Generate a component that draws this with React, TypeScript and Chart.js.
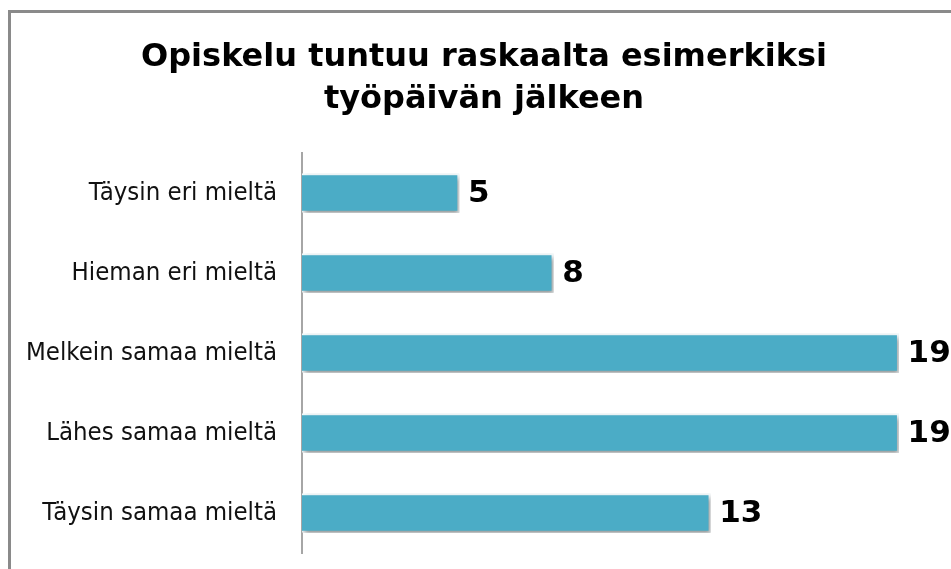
import React, { useEffect, useRef } from "react";
import { Chart, registerables } from "chart.js";

Chart.register(...registerables);

const titleLines = ["Opiskelu tuntuu raskaalta esimerkiksi", "työpäivän jälkeen"];
const categories = [
  "Täysin eri mieltä",
  "Hieman eri mieltä",
  "Melkein samaa mieltä",
  "Lähes samaa mieltä",
  "Täysin samaa mieltä",
];
const values = [5, 8, 19, 19, 13];

const frame = {
  id: "frame",
  beforeDraw(chart: any) {
    const ctx = chart.ctx;
    ctx.save();
    ctx.fillStyle = "#ffffff";
    ctx.fillRect(0, 0, chart.width, chart.height);
    ctx.strokeStyle = "#8a8a8a";
    ctx.lineWidth = 3;
    ctx.strokeRect(9.5, 11.5, 1200, 1200);
    // title
    ctx.fillStyle = "#000000";
    ctx.font = "bold 32px 'DejaVu Sans'";
    ctx.textAlign = "center";
    ctx.textBaseline = "middle";
    titleLines.forEach((line, i) => {
      ctx.fillText(line, 484, 58 + i * 42);
    });
    ctx.restore();
  },
};

const shadow = {
  id: "shadow",
  beforeDatasetDraw(chart: any) {
    const ctx = chart.ctx;
    ctx.save();
    ctx.shadowColor = "rgba(0,0,0,0.4)";
    ctx.shadowBlur = 5;
    ctx.shadowOffsetX = 2;
    ctx.shadowOffsetY = 3;
  },
  afterDatasetDraw(chart: any) {
    chart.ctx.restore();
  },
};

const valueLabels = {
  id: "valueLabels",
  afterDatasetsDraw(chart: any) {
    const ctx = chart.ctx;
    const meta = chart.getDatasetMeta(0);
    ctx.save();
    ctx.font = "bold 31px 'DejaVu Sans'";
    ctx.fillStyle = "#000000";
    ctx.textAlign = "left";
    ctx.textBaseline = "middle";
    meta.data.forEach((bar: any, i: number) => {
      ctx.fillText(String(chart.data.datasets[0].data[i]), bar.x + 9, bar.y + 1);
    });
    ctx.restore();
  },
};

export default function App() {
  const ref = useRef<HTMLCanvasElement>(null);
  useEffect(() => {
    const chart = new Chart(ref.current!, {
      type: "bar",
      data: {
        labels: categories,
        datasets: [
          {
            data: values,
            backgroundColor: "#4BACC6",
            borderColor: "#f4fbfd",
            borderWidth: 2,
            barThickness: 39,
          },
        ],
      },
      options: {
        indexAxis: "y",
        animation: false,
        responsive: false,
        layout: { padding: { left: 0, right: 21, top: 153, bottom: 16 } },
        plugins: {
          legend: { display: false },
          tooltip: { enabled: false },
          title: { display: false },
        },
        scales: {
          x: { display: false, min: 0, max: 20 },
          y: {
            grid: { display: false, drawTicks: false },
            border: { display: true, color: "#a6a6a6", width: 2 },
            ticks: {
              color: "#111111",
              padding: 25,
              font: { family: "'DejaVu Sans Condensed', 'DejaVu Sans'", size: 25.5 },
            },
            afterFit(scale: any) {
              scale.width = 302;
              scale.paddingTop = 0;
              scale.paddingBottom = 0;
            },
          },
        },
      },
      plugins: [frame, shadow, valueLabels],
    });
    return () => chart.destroy();
  }, []);
  return (
    <div style={{ position: "absolute", left: 0, top: 0, width: 951, height: 569 }}>
      <canvas ref={ref} width={951} height={569} style={{ display: "block" }} />
    </div>
  );
}
